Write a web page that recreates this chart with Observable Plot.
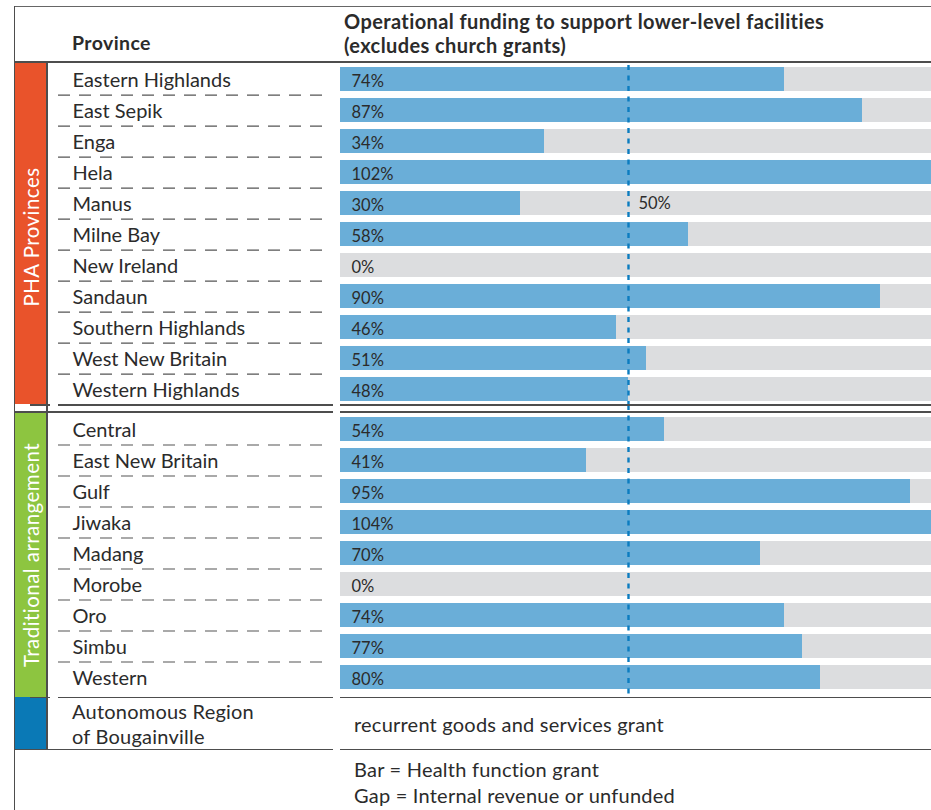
<!DOCTYPE html>
<html>
<head>
<meta charset="utf-8">
<script src="https://cdn.jsdelivr.net/npm/d3@7"></script>
<script src="https://cdn.jsdelivr.net/npm/@observablehq/plot@0.6"></script>
<style>
  body { margin: 0; background: #fff; font-family: Lato, "Open Sans", sans-serif; color: #2b2b2b; }
  #root { position: relative; width: 931px; height: 810px; overflow: hidden; }
  .ln { position: absolute; background: #4d4d4d; }
  .band { position: absolute; }
  .t { position: absolute; white-space: nowrap; line-height: 1.2; font-size: 20px; letter-spacing: 0.22px; }
  .b { font-weight: 700; letter-spacing: 0.4px; }
  .rot { position: absolute; white-space: nowrap; color: #fff; font-size: 20.5px; letter-spacing: 0.45px; line-height: 1; transform: translate(-50%, -50%) rotate(-90deg); }
  .plotbox { position: absolute; left: 0; }
  .plotbox svg { display: block; overflow: hidden; }
</style>
</head>
<body>
<div id="root">
  <!-- colour bands -->
  <div class="band" style="left:15px;top:62px;width:31px;height:342px;background:#E9532B"></div>
  <div class="band" style="left:15px;top:412px;width:31px;height:285px;background:#8DC540"></div>
  <div class="band" style="left:15px;top:697px;width:31px;height:52px;background:#0A79B6"></div>
  <div class="rot" id="g1" style="left:30.5px;top:237px"></div>
  <div class="rot" id="g2" style="left:30.5px;top:555px"></div>

  <!-- header text -->
  <div class="t b" id="hdrProvince" style="left:72px;top:31px;font-size:19.5px"></div>
  <div class="t b" id="title1" style="left:344px;top:9px"></div>
  <div class="t b" id="title2" style="left:344px;top:33px"></div>

  <div id="plot1" class="plotbox" style="top:62px"></div>
  <div id="plot2" class="plotbox" style="top:405px"></div>

  <div class="t" id="arb1" style="left:72px;top:699px"></div>
  <div class="t" id="arb2" style="left:72px;top:724px"></div>
  <div class="t" id="arbNote" style="left:354px;top:712px"></div>
  <div class="t" id="leg1" style="left:354px;top:757px"></div>
  <div class="t" id="leg2" style="left:354px;top:783px"></div>

  <!-- frame lines -->
  <div class="ln" style="left:14px;top:5.5px;width:917px;height:1.5px;background:#666"></div>
  <div class="ln" style="left:14px;top:61px;width:917px;height:2px"></div>
  <div class="ln" style="left:13.5px;top:6px;width:1.5px;height:804px"></div>
  <div class="ln" style="left:46px;top:62px;width:1.5px;height:687px"></div>

  <div class="ln" style="left:30px;top:404px;width:20px;height:1.5px"></div>
  <div class="ln" style="left:58px;top:404px;width:275px;height:1.5px"></div>
  <div class="ln" style="left:340px;top:404px;width:591px;height:1.5px"></div>
  <div class="ln" style="left:14px;top:411px;width:319px;height:1.5px"></div>
  <div class="ln" style="left:340px;top:411px;width:591px;height:1.5px"></div>

  <div class="ln" style="left:30px;top:696.5px;width:20px;height:1.5px"></div>
  <div class="ln" style="left:58px;top:696.5px;width:275px;height:1.5px"></div>
  <div class="ln" style="left:340px;top:696.5px;width:591px;height:1.5px"></div>

  <div class="ln" style="left:14px;top:748.5px;width:319px;height:1.5px"></div>
  <div class="ln" style="left:340px;top:748.5px;width:591px;height:1.5px"></div>
</div>

<script>
// ---------- data ----------
const phaProvinces = ["Eastern Highlands", "East Sepik", "Enga", "Hela", "Manus", "Milne Bay",
  "New Ireland", "Sandaun", "Southern Highlands", "West New Britain", "Western Highlands"];
const phaValues = [74, 87, 34, 102, 30, 58, 0, 90, 46, 51, 48];

const tradProvinces = ["Central", "East New Britain", "Gulf", "Jiwaka", "Madang", "Morobe",
  "Oro", "Simbu", "Western"];
const tradValues = [54, 41, 95, 104, 70, 0, 74, 77, 80];

const groupLabels = ["PHA Provinces", "Traditional arrangement"];
// reference line: labelled "50%", drawn in the picture at about 48% of the bar scale
const thresholdPosition = 48;
const thresholdLabel = "50%";
const thresholdRow = "Manus";

const headerProvince = "Province";
const titleLines = ["Operational funding to support lower-level facilities", "(excludes church grants)"];
const arbLines = ["Autonomous Region", "of Bougainville"];
const arbNote = "recurrent goods and services grant";
const legendLines = ["Bar = Health function grant", "Gap = Internal revenue or unfunded"];

// ---------- text ----------
document.getElementById("g1").textContent = groupLabels[0];
document.getElementById("g2").textContent = groupLabels[1];
document.getElementById("hdrProvince").textContent = headerProvince;
document.getElementById("title1").textContent = titleLines[0];
document.getElementById("title2").textContent = titleLines[1];
document.getElementById("arb1").textContent = arbLines[0];
document.getElementById("arb2").textContent = arbLines[1];
document.getElementById("arbNote").textContent = arbNote;
document.getElementById("leg1").textContent = legendLines[0];
document.getElementById("leg2").textContent = legendLines[1];

// ---------- charts ----------
const TEXT = "#2b2b2b";
function groupChart(names, values, o) {
  const rows = names.map((name, i) => ({name, value: values[i]}));
  const step = o.frame / names.length;
  return Plot.plot({
    width: 931,
    height: o.marginTop + o.frame + o.marginBottom,
    marginTop: o.marginTop, marginBottom: o.marginBottom, marginLeft: 0, marginRight: 0,
    x: {domain: [0, 100], range: [340, 940], axis: null},
    y: {domain: names, paddingInner: 0.23, paddingOuter: 0.115, axis: null},
    style: {fontFamily: "Lato, sans-serif", background: "transparent", overflow: "hidden"},
    marks: [
      Plot.barX(rows, {y: "name", x1: 0, x2: 110, fill: "#DCDDDF", clip: true}),
      Plot.barX(rows, {y: "name", x1: 0, x2: "value", fill: "#6AAED8", clip: true}),
      Plot.ruleX([thresholdPosition], {x: d => d, stroke: "#0B7CC0", strokeWidth: 2.4,
        strokeDasharray: "5,5.5", insetTop: o.ruleTop, insetBottom: o.ruleBottom}),
      Plot.text(rows, {y: "name", x: 0, text: d => d.value + "%", dx: 11, dy: 2,
        textAnchor: "start", fontSize: 16.5, fill: TEXT}),
      Plot.text(rows, {y: "name", frameAnchor: "left", dx: 72, dy: 1.5, text: "name",
        textAnchor: "start", fontSize: 20, fill: TEXT, style: "letter-spacing:0.2px"}),
      Plot.ruleY(rows.slice(0, -1), {y: "name", dy: step / 2, insetLeft: 58, insetRight: 931 - 329,
        stroke: "#555", strokeWidth: 1.2, strokeDasharray: "12,9"}),
      Plot.text(rows.filter(d => d.name === thresholdRow), {y: "name", x: () => thresholdPosition,
        text: () => thresholdLabel, dx: 10, dy: 0, textAnchor: "start", fontSize: 16.5, fill: TEXT})
    ]
  });
}

document.getElementById("plot1").append(groupChart(phaProvinces, phaValues,
  {marginTop: 0, frame: 343.2, marginBottom: 0, ruleTop: 3, ruleBottom: 0}));
document.getElementById("plot2").append(groupChart(tradProvinces, tradValues,
  {marginTop: 8.5, frame: 279, marginBottom: 4.5, ruleTop: -8.5, ruleBottom: -2.5}));
</script>
</body>
</html>
